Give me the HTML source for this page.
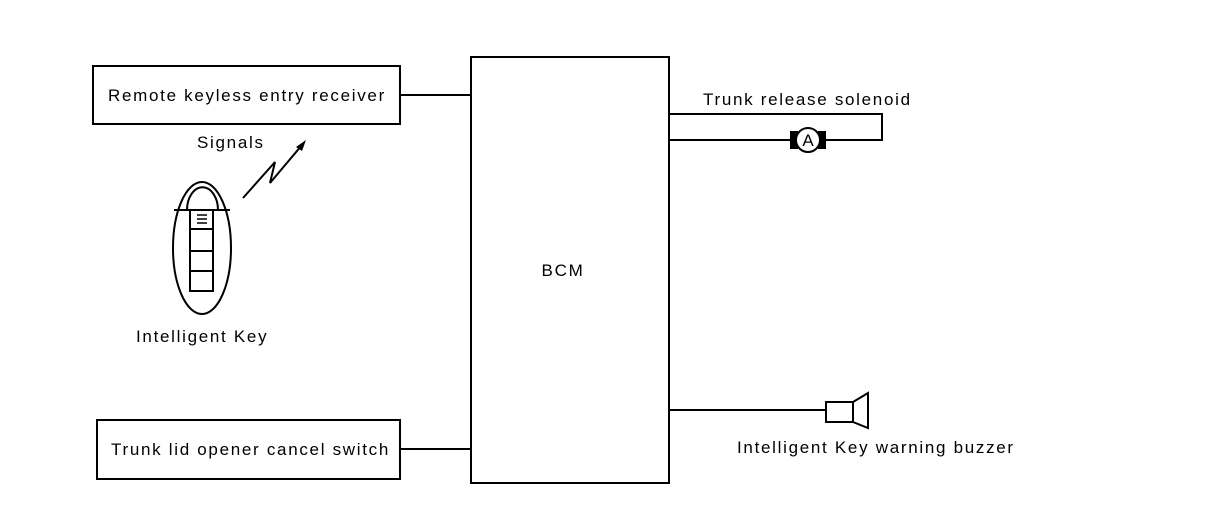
<!DOCTYPE html>
<html><head><style>body{margin:0;background:#fff}svg{display:block}text{font-family:"Liberation Sans",sans-serif;font-size:17px;letter-spacing:1.7px;fill:#000}</style></head>
<body>
<svg width="1216" height="512" viewBox="0 0 1216 512" xmlns="http://www.w3.org/2000/svg">
<g fill="none" stroke="#000" stroke-width="2">
<rect x="93" y="66" width="307" height="58"/>
<rect x="471" y="57" width="198" height="426"/>
<rect x="97" y="420" width="303" height="59"/>
<line x1="400" y1="95" x2="471" y2="95"/>
<line x1="400" y1="449" x2="471" y2="449"/>
<polyline points="669,114 882,114 882,140 669,140"/>
<line x1="669" y1="410" x2="826" y2="410"/>
<rect x="826" y="402" width="27" height="20"/>
<polygon points="853,402 868,393 868,428 853,422"/>
<ellipse cx="202" cy="248" rx="29" ry="66"/>
<line x1="174" y1="210" x2="230" y2="210"/>
<path d="M187,210 A15,22 0 0 1 218,210"/>
<rect x="190" y="210" width="23" height="81"/>
<line x1="190" y1="229" x2="213" y2="229"/>
<line x1="190" y1="251" x2="213" y2="251"/>
<line x1="190" y1="271" x2="213" y2="271"/>
<polyline points="243,198 275,162 270,183 302,145"/>
</g>
<g stroke="#000" stroke-width="1.5"><line x1="197" y1="215" x2="207" y2="215"/><line x1="197" y1="219" x2="207" y2="219"/><line x1="197" y1="223" x2="207" y2="223"/></g>
<polygon points="306,140 296,147 302,151" fill="#000"/>
<rect x="790" y="131" width="8" height="18" fill="#000"/>
<rect x="818" y="131" width="8" height="18" fill="#000"/>
<circle cx="808" cy="140" r="12" fill="#fff" stroke="#000" stroke-width="2"/>
<text x="808" y="146" text-anchor="middle" font-size="15" style="letter-spacing:0">A</text>
<text x="108" y="101">Remote keyless entry receiver</text>
<text x="111" y="455">Trunk lid opener cancel switch</text>
<text x="197" y="148">Signals</text>
<text x="136" y="342">Intelligent Key</text>
<text x="563" y="276" text-anchor="middle">BCM</text>
<text x="703" y="105">Trunk release solenoid</text>
<text x="737" y="453">Intelligent Key warning buzzer</text>
</svg>
</body></html>
